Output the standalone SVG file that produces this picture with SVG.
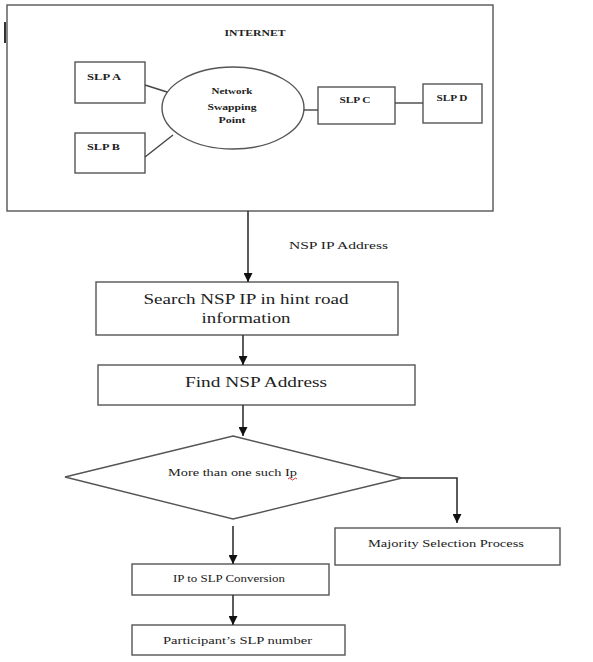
<svg xmlns="http://www.w3.org/2000/svg" width="593" height="662" viewBox="0 0 593 662" font-family="'Liberation Serif', 'DejaVu Serif', serif">
<defs>
<marker id="ah" viewBox="0 0 10 10" refX="10" refY="5" markerWidth="9" markerHeight="9" markerUnits="userSpaceOnUse" orient="auto">
<path d="M0,0 L10,5 L0,10 z" fill="#111"/>
</marker>
<style>
.box{fill:#fff;stroke:#555;stroke-width:1.4}
.ln{fill:none;stroke:#444;stroke-width:1.4}
.ar{fill:none;stroke:#333;stroke-width:1.6;marker-end:url(#ah)}
text{fill:#222}
.b{font-weight:bold;font-size:9px}
.m{font-size:11px}
.l{font-size:15px}
</style>
</defs>
<rect width="593" height="662" fill="#fff"/>
<line x1="5" y1="22" x2="5" y2="43" stroke="#333" stroke-width="2"/>
<g id="internet">
<rect class="box" x="7" y="5" width="486" height="206"/>
<text class="b" x="255" y="36" text-anchor="middle" textLength="61" lengthAdjust="spacingAndGlyphs">INTERNET</text>
</g>
<g id="slpA">
<rect class="box" x="75" y="62" width="70" height="41"/>
<text class="b" x="87" y="80" textLength="34" lengthAdjust="spacingAndGlyphs">SLP A</text>
</g>
<g id="slpB">
<rect class="box" x="75" y="133" width="70" height="40"/>
<text class="b" x="87" y="150" textLength="33" lengthAdjust="spacingAndGlyphs">SLP B</text>
</g>
<g id="nsp">
<ellipse class="box" cx="233" cy="108" rx="71" ry="41"/>
<text class="b" x="232" y="94" text-anchor="middle" textLength="41" lengthAdjust="spacingAndGlyphs">Network</text>
<text class="b" x="232" y="110" text-anchor="middle" textLength="49" lengthAdjust="spacingAndGlyphs">Swapping</text>
<text class="b" x="232" y="123" text-anchor="middle" textLength="27" lengthAdjust="spacingAndGlyphs">Point</text>
</g>
<g id="slpC">
<rect class="box" x="318" y="87" width="77" height="37"/>
<text class="b" x="355" y="103" text-anchor="middle" textLength="31" lengthAdjust="spacingAndGlyphs">SLP C</text>
</g>
<g id="slpD">
<rect class="box" x="423" y="84" width="59" height="39"/>
<text class="b" x="452" y="101" text-anchor="middle" textLength="31" lengthAdjust="spacingAndGlyphs">SLP D</text>
</g>
<g id="search">
<rect class="box" x="96" y="282" width="302" height="53"/>
<text class="l" x="246" y="304" text-anchor="middle" textLength="205" lengthAdjust="spacingAndGlyphs">Search NSP IP in hint road</text>
<text class="l" x="246" y="323" text-anchor="middle" textLength="89" lengthAdjust="spacingAndGlyphs">information</text>
</g>
<g id="find">
<rect class="box" x="98" y="365" width="317" height="40"/>
<text class="l" x="256" y="387" text-anchor="middle" textLength="142" lengthAdjust="spacingAndGlyphs">Find NSP Address</text>
</g>
<g id="decision">
<polygon class="box" points="233,436 402,478 233,519 65,477"/>
<text class="m" x="168" y="476" textLength="129" lengthAdjust="spacingAndGlyphs">More than one such Ip</text>
<path d="M288,479 q1.5,-2 3,0 t3,0 t3,0" fill="none" stroke="#d33" stroke-width="1"/>
</g>
<g id="majority">
<rect class="box" x="335" y="528" width="225" height="37"/>
<text class="m" x="368" y="547" textLength="156" lengthAdjust="spacingAndGlyphs">Majority Selection Process</text>
</g>
<g id="conversion">
<rect class="box" x="132" y="564" width="197" height="31"/>
<text class="m" x="173" y="582" textLength="112" lengthAdjust="spacingAndGlyphs">IP to SLP Conversion</text>
</g>
<g id="participant">
<rect class="box" x="132" y="625" width="213" height="30"/>
<text class="m" x="163" y="644" textLength="149" lengthAdjust="spacingAndGlyphs">Participant’s SLP number</text>
</g>
<g id="connectors">
<line class="ln" x1="145" y1="85" x2="167" y2="92"/>
<line class="ln" x1="145" y1="157" x2="173" y2="135"/>
<line class="ln" x1="304" y1="110" x2="318" y2="110"/>
<line class="ln" x1="395" y1="103" x2="423" y2="103"/>
<line class="ar" x1="248" y1="211" x2="248" y2="282"/>
<text class="m" x="289" y="249" textLength="99" lengthAdjust="spacingAndGlyphs">NSP IP Address</text>
<line class="ar" x1="243" y1="335" x2="243" y2="365"/>
<line class="ar" x1="243" y1="405" x2="243" y2="436"/>
<polyline class="ar" points="402,478 457,478 457,523"/>
<line class="ar" x1="233" y1="526" x2="233" y2="564"/>
<line class="ar" x1="233" y1="595" x2="233" y2="625"/>
</g>
</svg>
